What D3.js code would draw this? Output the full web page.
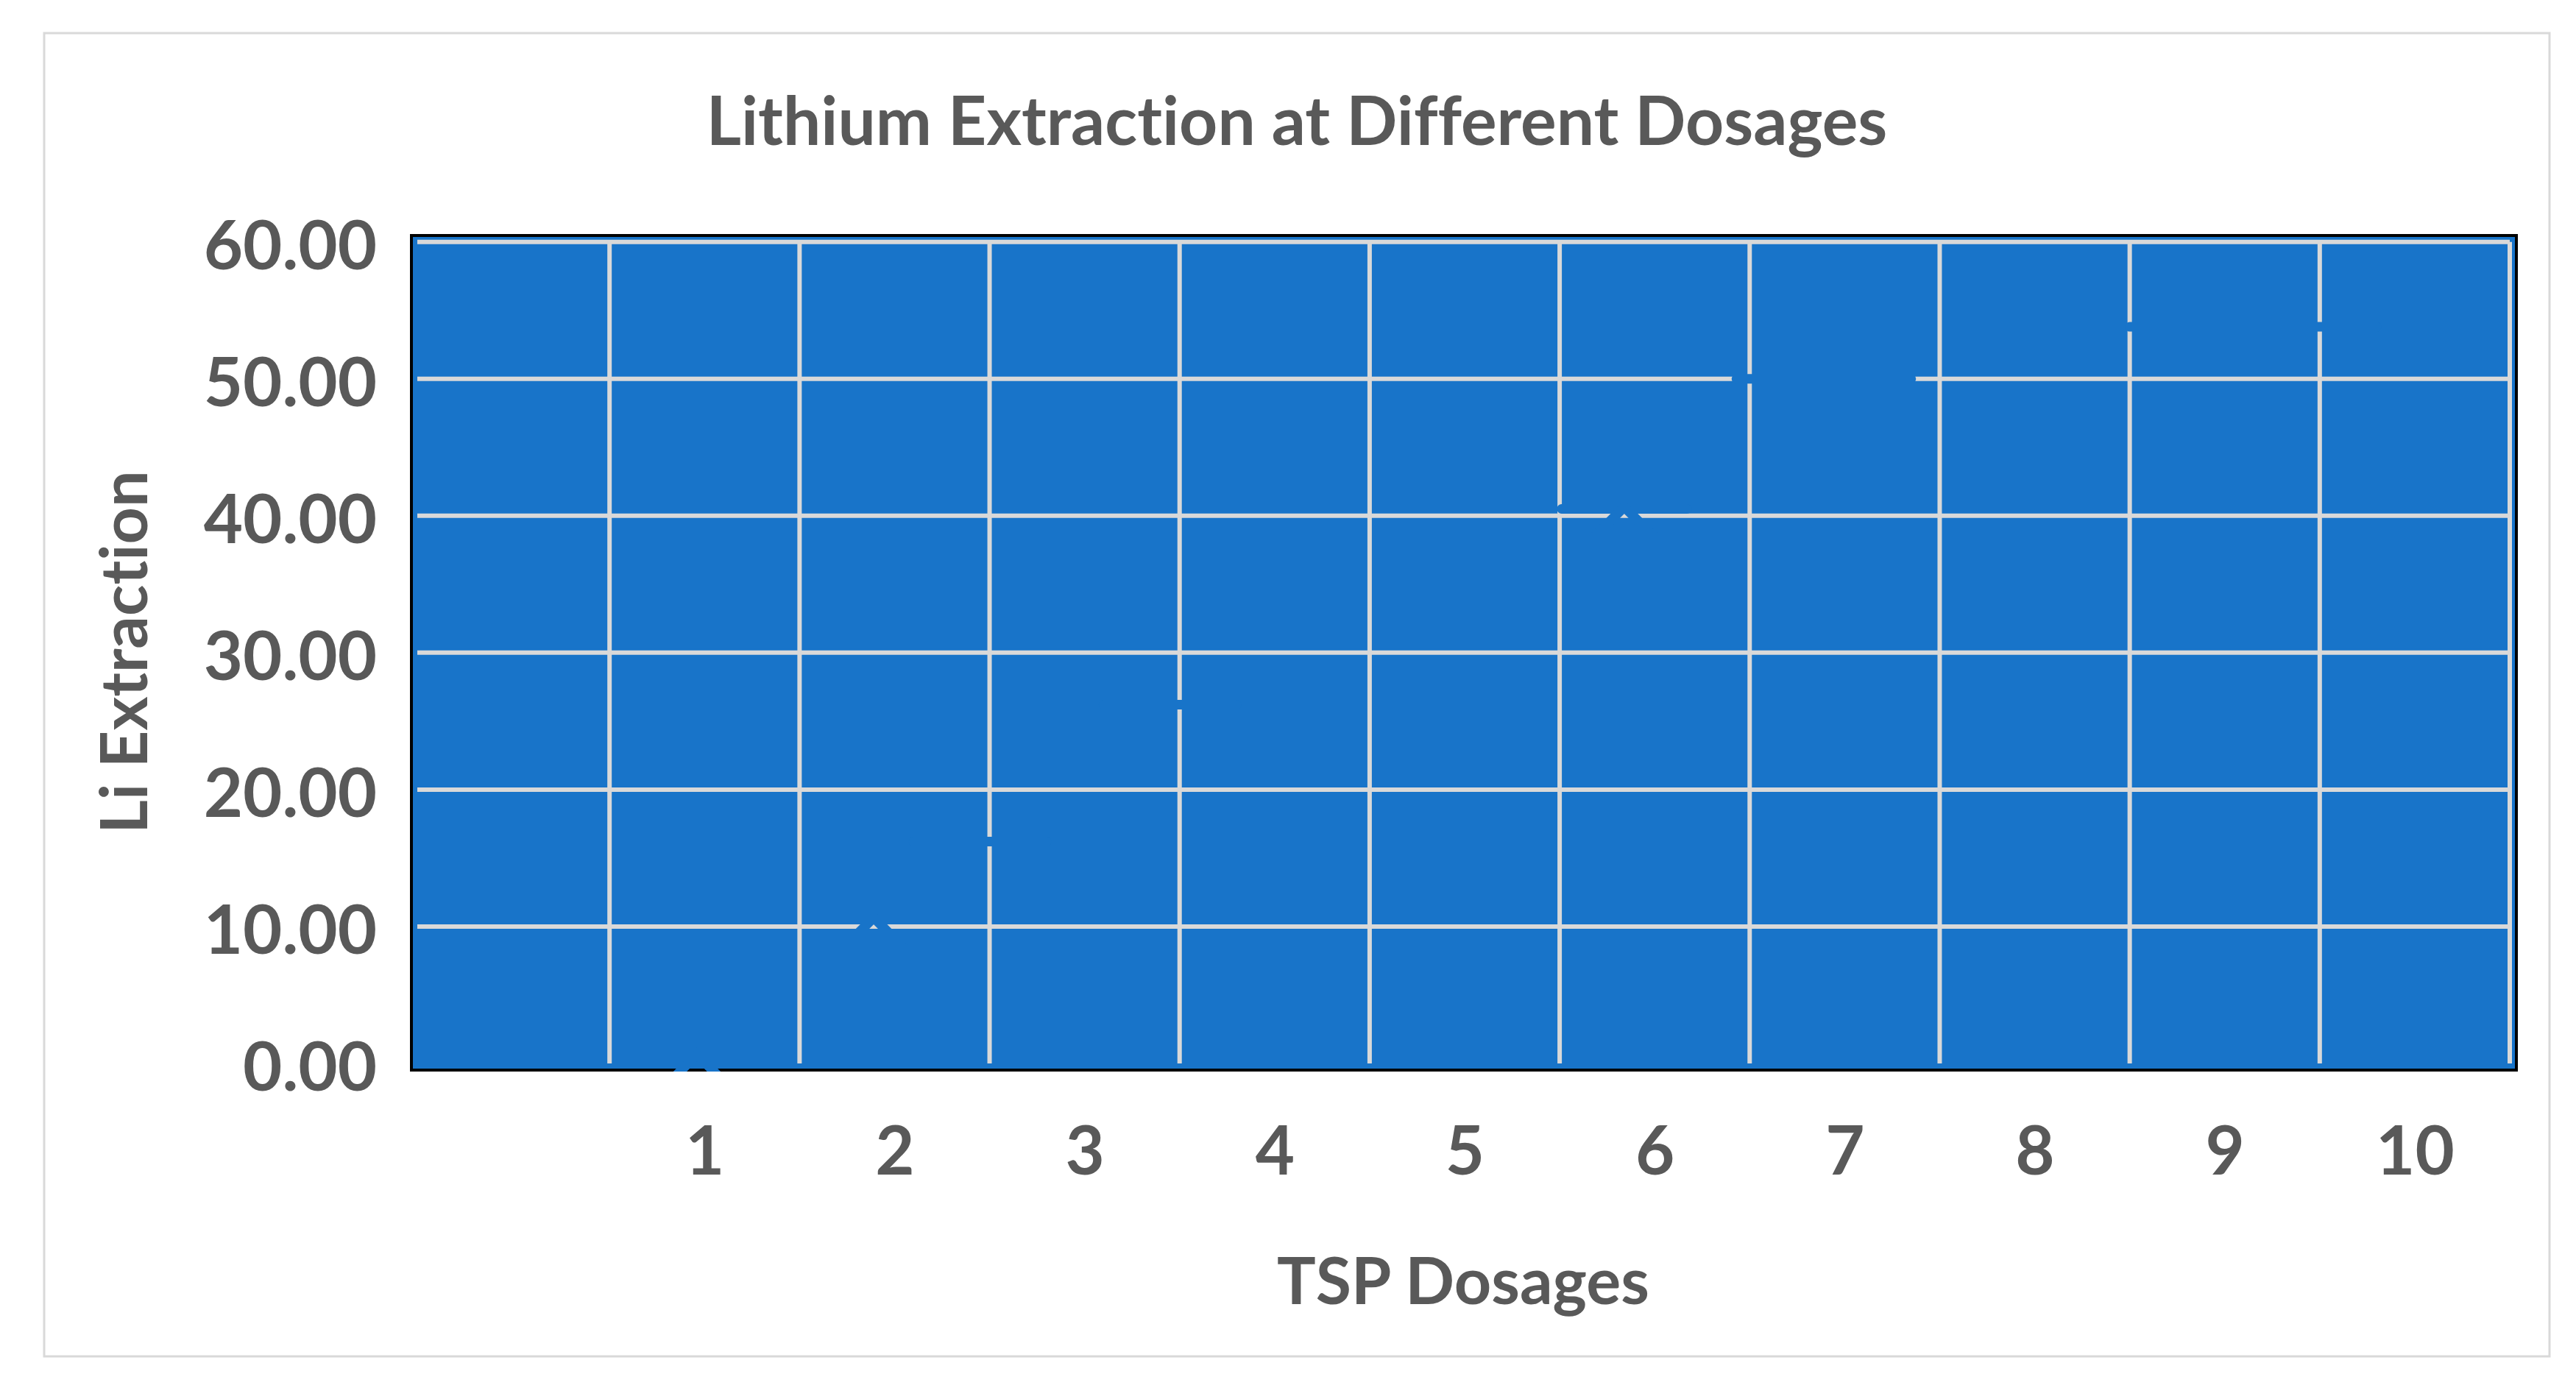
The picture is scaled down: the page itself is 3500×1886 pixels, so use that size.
<!DOCTYPE html>
<html>
<head>
<meta charset="utf-8">
<script src="https://cdn.jsdelivr.net/npm/d3@7"></script>
<style>
  body { margin: 0; background: #fff; }
  text { font-family: Lato, "Open Sans", sans-serif; font-weight: bold; fill: #595959; font-variant-ligatures: none; }
</style>
</head>
<body>
<script>
// chart data
const categories = ["", "1", "2", "3", "4", "5", "6", "7", "8", "9", "10"];
const yTicks = [0, 10, 20, 30, 40, 50, 60];
// triangle markers (only visible where they sit on a gridline)
const markerPos = [0.96, 1.89, 5.84];
const markerVal = [0, 10, 40];
// horizontal dashes of the series line, same blue as the plot area
const dashVal = [16.2, 26.2, 40.5, 50.0, 53.8];
const dashFrom = [2.1, 3.1, 5.51, 6.43, 8.5];
const dashTo = [2.8, 3.8, 6.17, 7.35, 9.8];

const W = 3500, H = 1886;
const blue = "#1874c9", grid = "#d9d9d9";

var svg = d3.select("body").append("svg").attr("width", W).attr("height", H);

// outer chart border
svg.append("rect").attr("x", 60).attr("y", 45).attr("width", 3404).attr("height", 1798)
  .attr("fill", "#fff").attr("stroke", grid).attr("stroke-width", 3);

var x = d3.scaleLinear().domain([-0.5, 10.5]).range([570, 3410]);
var y = d3.scaleLinear().domain([0, 60]).range([1445, 328.7]);

// plot area
svg.append("rect").attr("x", 559).attr("y", 320).attr("width", 2860).attr("height", 1134)
  .attr("fill", blue).attr("stroke", "#000").attr("stroke-width", 4);

svg.append("clipPath").attr("id", "plotclip").append("rect")
  .attr("x", 557).attr("y", 318).attr("width", 2864).attr("height", 1138);

// gridlines
svg.append("g").selectAll("line").data(yTicks.slice(1)).join("line")
  .attr("x1", 567).attr("x2", x(10.5))
  .attr("y1", d => y(d)).attr("y2", d => y(d))
  .attr("stroke", grid).attr("stroke-width", 6);

svg.append("g").selectAll("line").data(d3.range(0, 11)).join("line")
  .attr("x1", d => x(d + 0.5)).attr("x2", d => x(d + 0.5))
  .attr("y1", y(60)).attr("y2", y(0))
  .attr("stroke", grid).attr("stroke-width", 6);

// series
var series = svg.append("g").attr("clip-path", "url(#plotclip)");

series.selectAll("line").data(dashVal).join("line")
  .attr("x1", (d, i) => x(dashFrom[i])).attr("x2", (d, i) => x(dashTo[i]))
  .attr("y1", d => y(d)).attr("y2", d => y(d))
  .attr("stroke", blue).attr("stroke-width", 13).attr("stroke-linecap", "round");

series.selectAll("path").data(markerVal).join("path")
  .attr("d", "M0,-12L30,18L-30,18Z")
  .attr("transform", (d, i) => "translate(" + x(markerPos[i]) + "," + y(d) + ")")
  .attr("fill", "none").attr("stroke", blue).attr("stroke-width", 13);

// y axis labels
var yAxis = svg.append("g").attr("transform", "translate(512,0)")
  .call(d3.axisLeft(y).tickValues(yTicks).tickFormat(d3.format(".2f")).tickSize(0).tickPadding(0));
yAxis.select(".domain").remove();
yAxis.selectAll("text").attr("dy", "0.4em").style("font-size", "92px")
  .attr("fill", "#595959").style("font-family", "Lato");

// x axis labels
var xAxis = svg.append("g").attr("transform", "translate(0,1596)")
  .call(d3.axisBottom(x).tickValues(d3.range(0, 11)).tickFormat(i => categories[i]).tickSize(0).tickPadding(0));
xAxis.select(".domain").remove();
xAxis.selectAll("text").attr("y", 0).attr("dy", 0).style("font-size", "92px")
  .attr("fill", "#595959").style("font-family", "Lato");

// titles
svg.append("text").attr("x", 1762).attr("y", 197).attr("text-anchor", "middle")
  .style("font-size", "91px").text("Lithium Extraction at Different Dosages");

svg.append("text").attr("x", 1988).attr("y", 1772).attr("text-anchor", "middle")
  .style("font-size", "88px").text("TSP Dosages");

svg.append("text").attr("transform", "translate(200,886) rotate(-90)").attr("text-anchor", "middle")
  .style("font-size", "88px").text("Li Extraction");
</script>
</body>
</html>
